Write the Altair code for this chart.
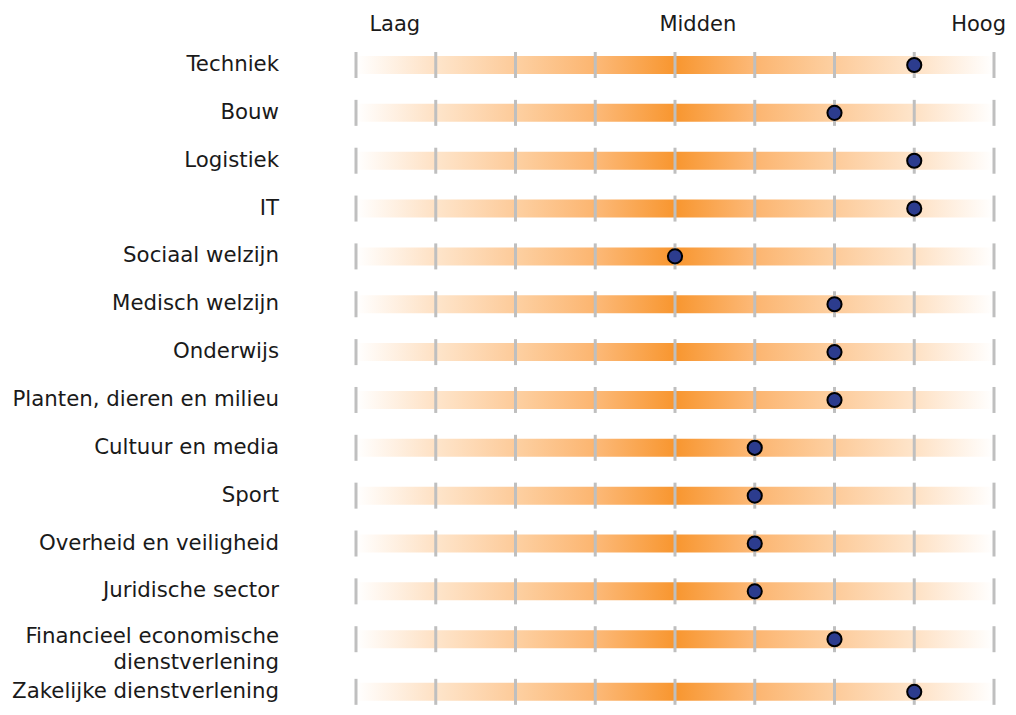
import json
import altair as alt
import pandas as pd

# ---------------- data ----------------
categories = [
    "Techniek",
    "Bouw",
    "Logistiek",
    "IT",
    "Sociaal welzijn",
    "Medisch welzijn",
    "Onderwijs",
    "Planten, dieren en milieu",
    "Cultuur en media",
    "Sport",
    "Overheid en veiligheid",
    "Juridische sector",
    "Financieel economische\u00a0\ndienstverlening",
    "Zakelijke dienstverlening",
]
scores = [7, 6, 7, 7, 4, 6, 6, 6, 5, 5, 5, 5, 6, 7]
scale_ticks = [0, 1, 2, 3, 4, 5, 6, 7, 8]
scale_labels = ["Laag", "Midden", "Hoog"]
scale_label_pos = [0.48, 4.28, 7.8]

# ---------------- layout helpers ----------------
EXTRA_PER_LINE = 0.1     # extra row space after a multi-line label
LINE_STEP = 0.55         # distance between label lines (in row units)
ROW_PX = 47.85           # pixels per row

pos = []
acc = 0.0
for i, c in enumerate(categories):
    pos.append(i + acc)
    acc += EXTRA_PER_LINE * c.count("\n")

rows = pd.DataFrame({"cat": categories, "score": scores, "pos": pos})
rows["start"] = min(scale_ticks)
rows["end"] = max(scale_ticks)

tick_df = pd.DataFrame(
    [{"pos": p, "tick": t} for p in pos for t in scale_ticks]
)

label_rows = []
for c, p in zip(categories, pos):
    lines = c.split("\n")
    n = len(lines)
    for k, ln in enumerate(lines):
        off = (k - (0.1 if n > 1 else 0.0)) * LINE_STEP
        label_rows.append({"line": ln, "lpos": p + off})
label_df = pd.DataFrame(label_rows)

# ---------------- scales ----------------
PAD_TOP = 28.3
PLOT_H = 669.7
y_top = -0.6
y_bot = y_top + PLOT_H / ROW_PX

xs = alt.Scale(domain=[min(scale_ticks), max(scale_ticks)], nice=False, zero=False, padding=0)
ys = alt.Scale(domain=[y_top, y_bot], reverse=True, nice=False, zero=False, padding=0)

FONT = "DejaVu Sans"
TXT = "#1a1a1a"

label_expr = f"{json.dumps(scale_labels)}[indexof({json.dumps(scale_label_pos)}, datum.value)]"

gradient = alt.LinearGradient(
    gradient="linear",
    x1=0, x2=1, y1=0, y2=0,
    stops=[
        alt.GradientStop(color="#FFFFFF", offset=0.0),
        alt.GradientStop(color="#FEE1C4", offset=0.124),
        alt.GradientStop(color="#FEE5CB", offset=0.126),
        alt.GradientStop(color="#FDCB9A", offset=0.249),
        alt.GradientStop(color="#FDD0A2", offset=0.251),
        alt.GradientStop(color="#FCB570", offset=0.374),
        alt.GradientStop(color="#FCB978", offset=0.376),
        alt.GradientStop(color="#F8962F", offset=0.5),
        alt.GradientStop(color="#FCB978", offset=0.624),
        alt.GradientStop(color="#FCB570", offset=0.626),
        alt.GradientStop(color="#FDD0A2", offset=0.749),
        alt.GradientStop(color="#FDCB9A", offset=0.751),
        alt.GradientStop(color="#FEE5CB", offset=0.874),
        alt.GradientStop(color="#FEE1C4", offset=0.876),
        alt.GradientStop(color="#FFFFFF", offset=1.0),
    ],
)

top_axis = alt.Axis(
    orient="top",
    values=scale_label_pos,
    labelExpr=label_expr,
    ticks=False,
    tickSize=0,
    domain=False,
    grid=False,
    labelPadding=2,
    labelFontSize=21,
    labelFont=FONT,
    labelColor=TXT,
    labelFlush=False,
    labelOverlap=False,
    labelAngle=0,
    title=None,
)

bars = alt.Chart(rows).mark_bar(
    orient="horizontal", size=18, fill=gradient
).encode(
    x=alt.X("start:Q", scale=xs, axis=top_axis),
    x2="end:Q",
    y=alt.Y("pos:Q", scale=ys, axis=None),
)

ticks = alt.Chart(tick_df).mark_tick(
    orient="vertical", size=26, thickness=3, color="#BFBFBF", opacity=1
).encode(
    x=alt.X("tick:Q", scale=xs, axis=top_axis),
    y=alt.Y("pos:Q", scale=ys, axis=None),
)

dots = alt.Chart(rows).mark_point(
    shape="circle", filled=True, size=200, fill="#2C3C8E", stroke="#000000",
    strokeWidth=2, opacity=1, fillOpacity=1
).encode(
    x=alt.X("score:Q", scale=xs, axis=top_axis),
    y=alt.Y("pos:Q", scale=ys, axis=None),
)

labels = alt.Chart(label_df).mark_text(
    align="right", baseline="middle", fontSize=21.3, font=FONT, color=TXT, dx=-77
).encode(
    x=alt.XDatum(min(scale_ticks), scale=xs, axis=top_axis),
    y=alt.Y("lpos:Q", scale=ys, axis=None),
    text="line:N",
)

chart = alt.layer(bars, ticks, dots, labels).properties(
    width=638,
    height=PLOT_H,
    autosize=alt.AutoSizeParams(type="none"),
    padding={"left": 348, "top": PAD_TOP, "right": 14, "bottom": 0},
).configure_view(stroke=None)

chart.save("out.html", embed_options={"renderer": "svg", "actions": False})
